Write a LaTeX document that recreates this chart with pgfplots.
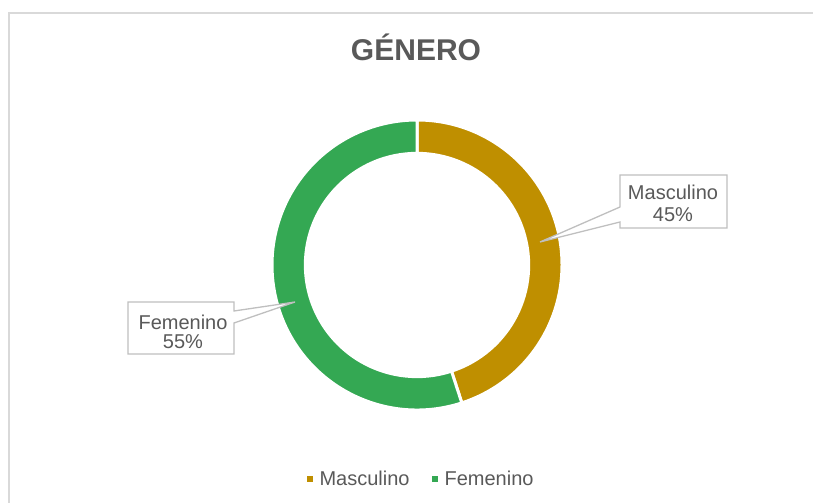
\documentclass[border=0pt]{standalone}
\usepackage{pgfplots}
\usepackage{pgfplotstable}
\pgfplotsset{compat=1.18}
\usepackage{fontspec}
\setmainfont{Liberation Sans}
\definecolor{gold}{HTML}{BF8F00}
\definecolor{grn}{HTML}{34A853}
\definecolor{txt}{HTML}{595959}
\definecolor{brd}{HTML}{D9D9D9}
\definecolor{cbrd}{HTML}{BFBFBF}

\pgfplotstableread{
label value
Masculino 45
Femenino 55
}\gendata
\pgfplotstablegetelem{0}{value}\of\gendata \let\vM\pgfplotsretval
\pgfplotstablegetelem{1}{value}\of\gendata \let\vF\pgfplotsretval
\pgfmathsetmacro\aM{90-3.6*\vM}
\pgfmathsetmacro\aF{\aM-3.6*\vF}

\begin{document}
\begin{tikzpicture}[x=1bp,y=1bp]
\useasboundingbox (0,0) rectangle (813,503);
\draw[brd,line width=1.5bp] (9,-20) -- (9,490) -- (830,490);
\node[txt,font=\fontsize{30bp}{36bp}\selectfont\bfseries] at (416,456) {GÉNERO};
\begin{axis}[at={(417bp,238bp)},anchor=center,scale only axis,
  width=290bp,height=290bp,xmin=-1,xmax=1,ymin=-1,ymax=1,
  hide axis,clip=false,
  legend columns=2,
  legend style={draw=none,fill=none,at={(axis cs:0.028,-1.476)},anchor=center,
    font=\fontsize{20bp}{24bp}\selectfont,text=txt,
    /tikz/every even column/.append style={column sep=20bp}},
  legend cell align=left]
\fill[gold,draw=white,line width=3bp] (axis cs:0,1) arc[start angle=90,end angle=\aM,radius=145bp]
  -- (axis cs:{0.77*cos(\aM)},{0.77*sin(\aM)}) arc[start angle=\aM,end angle=90,radius=111.65bp] -- cycle;
\fill[grn,draw=white,line width=3bp] (axis cs:{cos(\aM)},{sin(\aM)}) arc[start angle=\aM,end angle=\aF,radius=145bp]
  -- (axis cs:{0.77*cos(\aF)},{0.77*sin(\aF)}) arc[start angle=\aF,end angle=\aM,radius=111.65bp] -- cycle;
\addlegendimage{legend image code/.code={\fill[gold,draw=none] (0bp,-3bp) rectangle (6bp,3bp);\path[draw=none,fill=none] (0bp,0bp) -- (11bp,0bp);}}
\addlegendentry{Masculino}
\addlegendimage{legend image code/.code={\fill[grn,draw=none] (0bp,-3bp) rectangle (6bp,3bp);\path[draw=none,fill=none] (0bp,0bp) -- (11bp,0bp);}}
\addlegendentry{Femenino}
\end{axis}
% callouts
\filldraw[fill=white,draw=cbrd,line width=1.3bp] (620,328) -- (727,328) -- (727,275) -- (620,275) -- (620,281) -- (540,261) -- (620,296) -- cycle;
\node[txt,font=\fontsize{20bp}{24bp}\selectfont] at (673,311) {Masculino};
\node[txt,font=\fontsize{20bp}{24bp}\selectfont] at (673,288) {\vM\%};
\filldraw[fill=white,draw=cbrd,line width=1.3bp] (128,201) -- (234,201) -- (234,192) -- (295,201) -- (234,180) -- (234,149) -- (128,149) -- cycle;
\node[txt,font=\fontsize{20bp}{24bp}\selectfont] at (183,181) {Femenino};
\node[txt,font=\fontsize{20bp}{24bp}\selectfont] at (183,161) {\vF\%};
\end{tikzpicture}
\end{document}
